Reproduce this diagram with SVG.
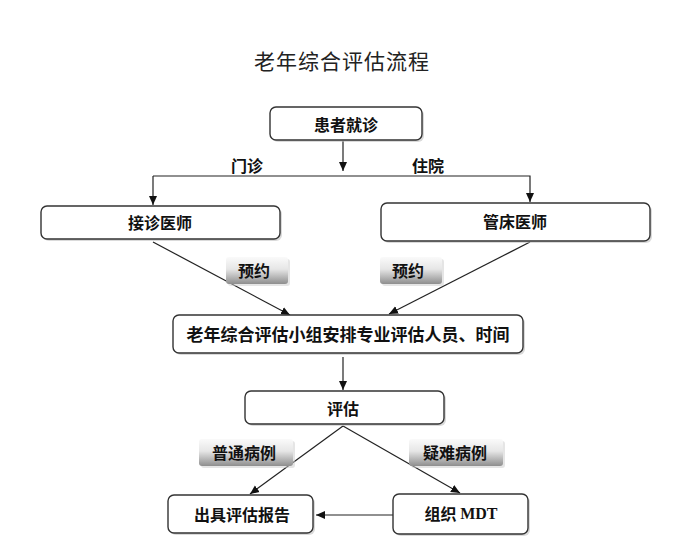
<svg xmlns="http://www.w3.org/2000/svg" width="688" height="544" viewBox="0 0 688 544">
<defs>
<style>
.box{fill:#fff;stroke:#333;stroke-width:1.4}
.sh{fill:#bbb;opacity:0.55}
.t{font-family:"Noto Sans CJK SC","Noto Sans",sans-serif;font-size:16px;font-weight:bold;fill:#111;text-anchor:middle;dominant-baseline:central}
.lab{fill:url(#g);stroke:none}
.ln{stroke:#222;stroke-width:1.2;fill:none}
</style>
<linearGradient id="g" x1="0" y1="0" x2="0" y2="1">
<stop offset="0" stop-color="#fafafa"/>
<stop offset="0.45" stop-color="#e6e6e6"/>
<stop offset="1" stop-color="#8e8e8e"/>
</linearGradient>
<marker id="a" markerWidth="10" markerHeight="10" refX="9" refY="5" orient="auto" markerUnits="userSpaceOnUse">
<path d="M0,1 L9,5 L0,9 Z" fill="#111"/>
</marker>
</defs>
<rect width="688" height="544" fill="#fff"/>
<text x="342" y="60" style="font-family:'Noto Sans CJK SC',sans-serif;font-size:21px;fill:#222;text-anchor:middle;dominant-baseline:central;letter-spacing:1px">老年综合评估流程</text>

<g id="connectors">
<line class="ln" x1="343" y1="141" x2="343" y2="171" marker-end="url(#a)"/>
<polyline class="ln" points="153,176 530,176 530,202" marker-end="url(#a)"/>
<line class="ln" x1="153" y1="176" x2="153" y2="205" marker-end="url(#a)"/>
<line class="ln" x1="153" y1="242" x2="290" y2="315" marker-end="url(#a)"/>
<line class="ln" x1="530" y1="242" x2="389" y2="314" marker-end="url(#a)"/>
<line class="ln" x1="343" y1="357" x2="343" y2="390" marker-end="url(#a)"/>
<line class="ln" x1="343" y1="426" x2="250" y2="494" marker-end="url(#a)"/>
<line class="ln" x1="343" y1="426" x2="460" y2="493" marker-end="url(#a)"/>
<line class="ln" x1="393" y1="515" x2="316" y2="515" marker-end="url(#a)"/>
</g>

<g id="label-menzhen"><text class="t" x="247" y="165">门诊</text></g>
<g id="label-zhuyuan"><text class="t" x="428" y="165">住院</text></g>

<g id="n-patient">
<rect class="sh" x="272" y="109" width="152" height="33" rx="6"/>
<rect class="box" x="270" y="107" width="152" height="33" rx="6"/>
<text class="t" x="346" y="124">患者就诊</text>
</g>
<g id="n-jiezhen">
<rect class="sh" x="43" y="208" width="239" height="33" rx="6"/>
<rect class="box" x="41" y="206" width="239" height="33" rx="6"/>
<text class="t" x="160" y="222">接诊医师</text>
</g>
<g id="n-guanchuang">
<rect class="sh" x="383" y="205" width="269" height="38" rx="6"/>
<rect class="box" x="381" y="203" width="269" height="38" rx="6"/>
<text class="t" x="515" y="221">管床医师</text>
</g>
<g id="l-yuyue1">
<rect x="228" y="259" width="62" height="27" rx="3" fill="#ccc" opacity="0.5"/>
<rect class="lab" x="226" y="257" width="62" height="27" rx="3"/>
<text class="t" x="254" y="270">预约</text>
</g>
<g id="l-yuyue2">
<rect x="382" y="259" width="62" height="27" rx="3" fill="#ccc" opacity="0.5"/>
<rect class="lab" x="380" y="257" width="62" height="27" rx="3"/>
<text class="t" x="408" y="270">预约</text>
</g>
<g id="n-group">
<rect class="sh" x="175" y="317" width="350" height="38" rx="6"/>
<rect class="box" x="173" y="315" width="350" height="38" rx="6"/>
<text class="t" x="348" y="333" style="font-size:17px">老年综合评估小组安排专业评估人员、时间</text>
</g>
<g id="n-eval">
<rect class="sh" x="247" y="393" width="199" height="33" rx="6"/>
<rect class="box" x="245" y="391" width="199" height="33" rx="6"/>
<text class="t" x="343" y="408">评估</text>
</g>
<g id="l-putong">
<rect x="201" y="441" width="94" height="27" rx="3" fill="#ccc" opacity="0.5"/>
<rect class="lab" x="199" y="439" width="94" height="27" rx="3"/>
<text class="t" x="244" y="452">普通病例</text>
</g>
<g id="l-yinan">
<rect x="411" y="441" width="94" height="27" rx="3" fill="#ccc" opacity="0.5"/>
<rect class="lab" x="409" y="439" width="94" height="27" rx="3"/>
<text class="t" x="455" y="452">疑难病例</text>
</g>
<g id="n-report">
<rect class="sh" x="170" y="497" width="145" height="38" rx="6"/>
<rect class="box" x="168" y="495" width="145" height="38" rx="6"/>
<text class="t" x="242" y="514">出具评估报告</text>
</g>
<g id="n-mdt">
<rect class="sh" x="395" y="496" width="135" height="40" rx="6"/>
<rect class="box" x="393" y="494" width="135" height="40" rx="6"/>
<text class="t" x="461" y="513">组织 <tspan style="font-family:'Liberation Serif',serif">MDT</tspan></text>
</g>
</svg>
